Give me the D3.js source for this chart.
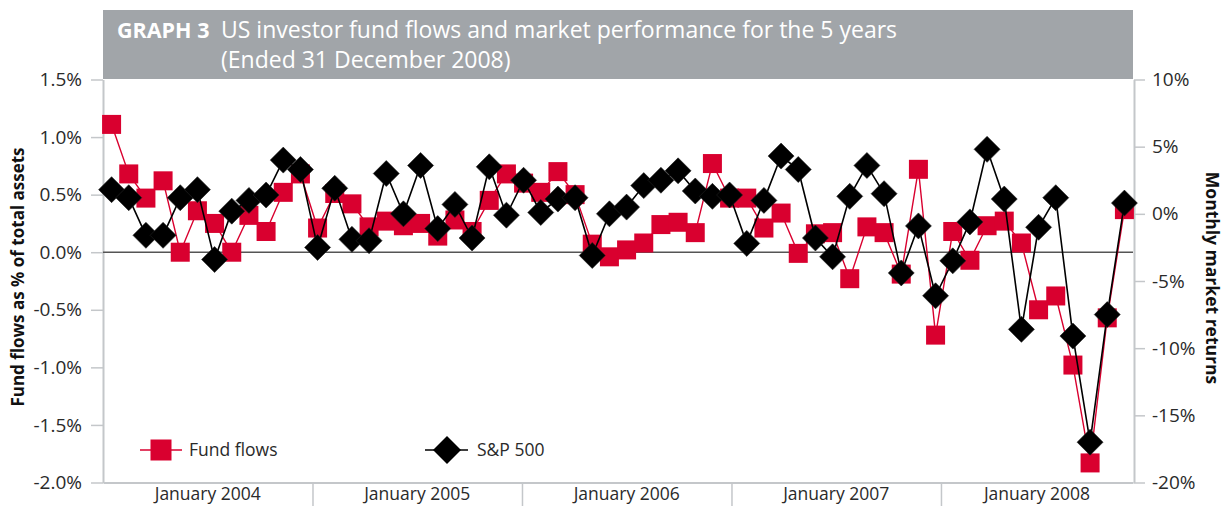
<!DOCTYPE html>
<html>
<head>
<meta charset="utf-8">
<script src="https://cdn.jsdelivr.net/npm/d3@7"></script>
<style>
  html, body { margin: 0; padding: 0; background: #fff; }
  svg { display: block; font-family: "Open Sans", "Noto Sans", sans-serif; }
</style>
</head>
<body>
<svg id="chart" width="1224" height="506"></svg>
<script>
// ---------- DATA ----------
const months = [];
for (let y = 2004; y <= 2008; y++) for (let m = 1; m <= 12; m++) months.push(y + "-" + String(m).padStart(2, "0"));

const fundFlows = [
  1.11, 0.68, 0.47, 0.62, 0.00, 0.36, 0.25, 0.00, 0.32, 0.18, 0.52, 0.68,
  0.21, 0.51, 0.42, 0.22, 0.27, 0.23, 0.25, 0.14, 0.28, 0.18, 0.45, 0.68,
  0.60, 0.52, 0.70, 0.50, 0.07, -0.04, 0.02, 0.08, 0.24, 0.26, 0.17, 0.77,
  0.47, 0.47, 0.21, 0.34, -0.01, 0.16, 0.17, -0.23, 0.22, 0.17, -0.19, 0.72,
  -0.72, 0.18, -0.07, 0.23, 0.27, 0.08, -0.50, -0.38, -0.98, -1.83, -0.57, 0.37
];

const sp500 = [
  1.8, 1.2, -1.6, -1.6, 1.2, 1.8, -3.4, 0.2, 1.0, 1.4, 4.0, 3.3,
  -2.5, 1.9, -1.9, -2.0, 3.0, 0.0, 3.6, -1.1, 0.7, -1.8, 3.5, -0.1,
  2.5, 0.1, 1.1, 1.2, -3.1, 0.0, 0.5, 2.1, 2.5, 3.2, 1.7, 1.3,
  1.4, -2.2, 1.0, 4.3, 3.3, -1.8, -3.2, 1.3, 3.6, 1.5, -4.4, -0.9,
  -6.1, -3.5, -0.6, 4.8, 1.1, -8.6, -1.0, 1.2, -9.1, -17.0, -7.5, 0.8
];

const yearLabels = ["January 2004", "January 2005", "January 2006", "January 2007", "January 2008"];
const leftTicks = [-2.0, -1.5, -1.0, -0.5, 0.0, 0.5, 1.0, 1.5];
const leftTickLabels = ["-2.0%", "-1.5%", "-1.0%", "-0.5%", "0.0%", "0.5%", "1.0%", "1.5%"];
const rightTicks = [-20, -15, -10, -5, 0, 5, 10];
const rightTickLabels = ["-20%", "-15%", "-10%", "-5%", "0%", "5%", "10%"];
const seriesNames = ["Fund flows", "S&P 500"];
const titleBold = "GRAPH 3";
const titleLine1 = "US investor fund flows and market performance for the 5 years";
const titleLine2 = "(Ended 31 December 2008)";
const leftAxisTitle = "Fund flows as % of total assets";
const rightAxisTitle = "Monthly market returns";

// ---------- LAYOUT ----------
const L = 103, R = 1133, T = 79.5, B = 482.5;
const RED = "#d9002f", AXIS = "#c4c7ca", TEXT = "#2a2a2a";
const svg = d3.select("#chart");

// Title box
svg.append("rect").attr("x", L).attr("y", 10).attr("width", R - L).attr("height", T - 10.5).attr("fill", "#a1a5a9");
svg.append("text").attr("x", 117).attr("y", 38).attr("fill", "#fff").style("font-size", "21.5px")
  .attr("font-weight", "bold").text(titleBold);
svg.append("text").attr("x", 221).attr("y", 38).attr("fill", "#fff").style("font-size", "23px").text(titleLine1);
svg.append("text").attr("x", 221).attr("y", 68).attr("fill", "#fff").style("font-size", "23px").text(titleLine2);

// Scales
const x = d3.scaleBand().domain(months).range([L, R]).padding(0);
const xc = d => x(d) + x.bandwidth() / 2;
const catAxisScale = d3.scaleLinear().domain([0, 59]).range([L, R]); // category axis divisions
const yL = d3.scaleLinear().domain([-2, 1.5]).range([B, T]);
const yR = d3.scaleLinear().domain([-20, 10]).range([B, T]);

// Left axis
const gL = svg.append("g").attr("transform", `translate(${L},0)`)
  .call(d3.axisLeft(yL).tickValues(leftTicks).tickFormat((d, i) => leftTickLabels[i]).tickSize(12).tickSizeOuter(0).tickPadding(9));
// Right axis
const gR = svg.append("g").attr("transform", `translate(${R + 1},0)`)
  .call(d3.axisRight(yR).tickValues(rightTicks).tickFormat((d, i) => rightTickLabels[i]).tickSize(11).tickSizeOuter(0).tickPadding(7));
[gL, gR].forEach(g => {
  g.select(".domain").attr("stroke", AXIS).attr("stroke-width", 2);
  g.selectAll(".tick line").attr("stroke", AXIS).attr("stroke-width", 1.5);
  g.selectAll(".tick text").attr("fill", TEXT).style("font-size", "19px").style("font-family", "'Open Sans', sans-serif");
});

// Bottom axis with year separators
const gB = svg.append("g").attr("transform", `translate(0,${B})`)
  .call(d3.axisBottom(catAxisScale).tickValues([12, 24, 36, 48]).tickFormat("").tickSize(24).tickSizeOuter(0));
gB.select(".domain").attr("stroke", AXIS).attr("stroke-width", 2);
gB.selectAll(".tick line").attr("stroke", AXIS).attr("stroke-width", 1.5);
yearLabels.forEach((lab, i) => {
  const x0 = catAxisScale(i * 12), x1 = catAxisScale(Math.min((i + 1) * 12, 59));
  svg.append("text").attr("x", (x0 + x1) / 2).attr("y", 500).attr("text-anchor", "middle")
    .attr("fill", TEXT).style("font-size", "17.5px").text(lab);
});

// Zero line
svg.append("line").attr("x1", L).attr("x2", R).attr("y1", yL(0)).attr("y2", yL(0))
  .attr("stroke", "#555", ).attr("stroke-width", 1.6);

// Axis titles
svg.append("text").attr("transform", `translate(24,${277}) rotate(-90)`).attr("text-anchor", "middle")
  .attr("fill", "#111").style("font-size", "17px").attr("font-weight", "bold").text(leftAxisTitle);
svg.append("text").attr("transform", `translate(1206,${278}) rotate(90)`).attr("text-anchor", "middle")
  .attr("fill", "#111").style("font-size", "17.5px").attr("font-weight", "bold").text(rightAxisTitle);

// Series
const sq = 19, dh = 13;
const diamondPath = `M0,${-dh}L${dh},0L0,${dh}L${-dh},0Z`;

const ffData = months.map((m, i) => ({ m, v: fundFlows[i] }));
const spData = months.map((m, i) => ({ m, v: sp500[i] }));

svg.append("path").datum(ffData).attr("fill", "none").attr("stroke", RED).attr("stroke-width", 1.4)
  .attr("d", d3.line().x(d => xc(d.m)).y(d => yL(d.v)));
svg.append("g").selectAll("rect").data(ffData).join("rect")
  .attr("x", d => xc(d.m) - sq / 2).attr("y", d => yL(d.v) - sq / 2)
  .attr("width", sq).attr("height", sq).attr("fill", RED);

svg.append("path").datum(spData).attr("fill", "none").attr("stroke", "#000").attr("stroke-width", 1.6)
  .attr("d", d3.line().x(d => xc(d.m)).y(d => yR(d.v)));
svg.append("g").selectAll("path").data(spData).join("path")
  .attr("transform", d => `translate(${xc(d.m)},${yR(d.v)})`).attr("d", diamondPath)
  .attr("fill", "#000").attr("stroke", "#222").attr("stroke-width", 0.6);

// Legend
const lgY = 450;
const lg1 = svg.append("g");
lg1.append("line").attr("x1", 140).attr("x2", 182).attr("y1", lgY).attr("y2", lgY).attr("stroke", RED).attr("stroke-width", 1.4);
lg1.append("rect").attr("x", 161 - 10.5).attr("y", lgY - 10.5).attr("width", 21).attr("height", 21).attr("fill", RED);
lg1.append("text").attr("x", 189).attr("y", lgY + 6).attr("fill", TEXT).style("font-size", "17.5px").text(seriesNames[0]);
const lg2 = svg.append("g");
lg2.append("line").attr("x1", 425).attr("x2", 468).attr("y1", lgY).attr("y2", lgY).attr("stroke", "#000").attr("stroke-width", 1.6);
lg2.append("path").attr("transform", `translate(447,${lgY})`).attr("d", `M0,-14L14,0L0,14L-14,0Z`).attr("fill", "#000");
lg2.append("text").attr("x", 477).attr("y", lgY + 6).attr("fill", TEXT).style("font-size", "17.5px").text(seriesNames[1]);
</script>
</body>
</html>
